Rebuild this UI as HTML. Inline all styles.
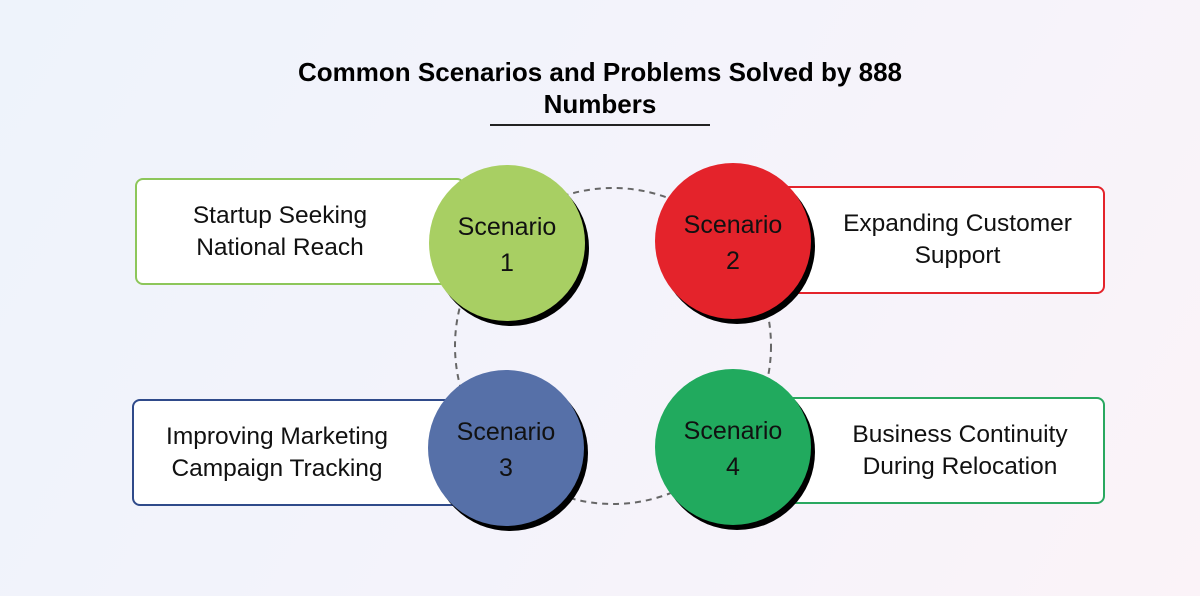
<!DOCTYPE html>
<html><head><style>
body{margin:0;width:1200px;height:596px;overflow:hidden;background:linear-gradient(120deg,#eef3fb 0%,#f4f3fb 50%,#fbf3f8 100%);font-family:"Liberation Sans",sans-serif;position:relative}
.t{position:absolute;left:0;width:1200px;top:56px;text-align:center;font-weight:bold;font-size:26px;line-height:32px;color:#000}
.ln{position:absolute;left:490px;top:124px;width:220px;height:2px;background:#222}
.box{position:absolute;background:#fff;border-radius:8px;border:2px solid;box-sizing:border-box;display:flex;align-items:center;justify-content:center;text-align:center;font-size:24.5px;line-height:32px;color:#111}
.c{position:absolute;width:156px;height:156px;border-radius:50%;box-shadow:4px 5px 0 #000;display:flex;align-items:center;justify-content:center;text-align:center;font-size:25px;line-height:36px;color:#111;padding-top:4px;box-sizing:border-box}
</style></head><body>
<svg style="position:absolute;left:0;top:0" width="1200" height="596"><circle cx="613" cy="346" r="158" fill="none" stroke="#666" stroke-width="2" stroke-dasharray="6 5"/></svg>
<div class="t">Common Scenarios and Problems Solved by 888<br>Numbers</div>
<div class="ln"></div>
<div class="box" style="left:135px;top:178px;width:330px;height:107px;border-color:#8dc65a;padding-right:40px">Startup Seeking<br>National Reach</div>
<div class="box" style="left:770px;top:186px;width:335px;height:108px;border-color:#e4232b;padding-left:40px">Expanding Customer<br>Support</div>
<div class="box" style="left:132px;top:399px;width:330px;height:107px;border-color:#2f4a8a;padding-right:40px">Improving Marketing<br>Campaign Tracking</div>
<div class="box" style="left:775px;top:397px;width:330px;height:107px;border-color:#2aa860;padding-left:40px">Business Continuity<br>During Relocation</div>
<div class="c" style="left:429px;top:165px;background:#a8cf63">Scenario<br>1</div>
<div class="c" style="left:655px;top:163px;background:#e4232b">Scenario<br>2</div>
<div class="c" style="left:428px;top:370px;background:#5670a8">Scenario<br>3</div>
<div class="c" style="left:655px;top:369px;background:#21aa5e">Scenario<br>4</div>
</body></html>
